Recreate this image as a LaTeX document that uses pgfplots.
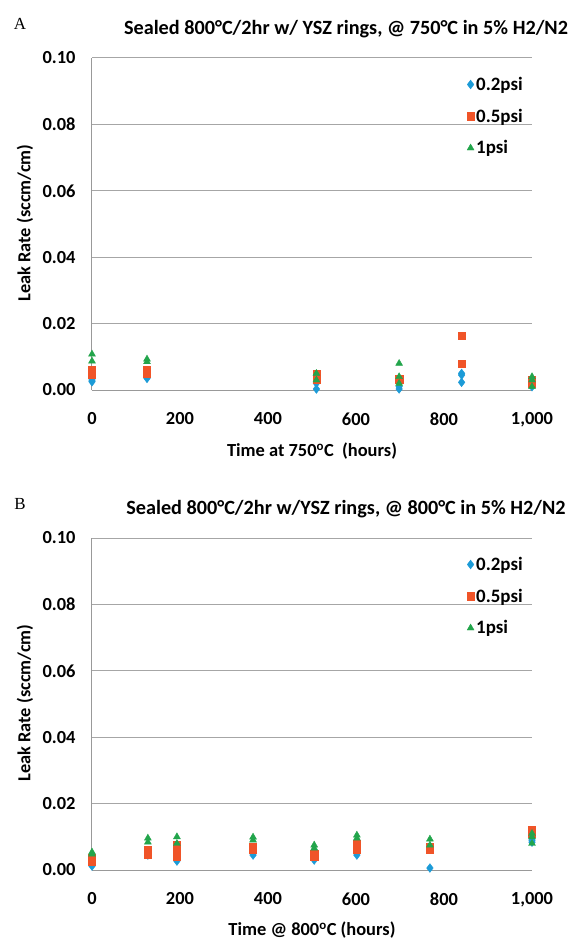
\documentclass[border=0pt]{standalone}
\usepackage{fontspec}
\setmainfont{Carlito}
\newfontfamily\seriffont{Liberation Serif}
\usepackage{pgfplots}
\pgfplotsset{compat=1.18}
\definecolor{cblue}{RGB}{28,155,215}
\definecolor{cred}{RGB}{240,84,40}
\definecolor{cgreen}{RGB}{34,165,75}
\pgfplotsset{myax/.style={
  scale only axis, width=440bp, height=332bp,
  xmin=0, xmax=1000, ymin=0, ymax=0.1,
  axis x line*=bottom, axis y line*=left,
  axis line style={draw=gray!80, line width=1bp},
  ymajorgrids, grid style={gray!70, line width=1bp},
  major tick length=0pt,
  xtick={0,200,400,600,800,1000},
  xticklabels={0,200,400,600,800,{1,000}},
  ytick={0,0.02,0.04,0.06,0.08,0.1},
  yticklabels={0.00,0.02,0.04,0.06,0.08,0.10},
  ticklabel style={font=\bfseries\fontsize{18.5}{20}\selectfont},
  yticklabel style={xshift=-13bp},
  xticklabel style={yshift=-19bp},
  legend style={draw=none, fill=none, at={(0.845,0.955)}, anchor=north west,
    font=\bfseries\fontsize{19}{21}\selectfont, row sep=13bp,
    legend cell align=left},
  legend image code/.code={\draw[mark repeat=2,mark phase=2] plot coordinates {(0cm,0cm) (0.15cm,0cm) (0.3cm,0cm)};},
  clip=false,
}}
\begin{document}
\begin{tikzpicture}[x=1bp,y=1bp]
\useasboundingbox (-92,-549) rectangle (478,390);
% Panel A
\node[font=\seriffont\fontsize{17}{19}\selectfont] at (-72,366) {A};
\node[font=\bfseries\fontsize{20.3}{22}\selectfont] at (254,361) {Sealed 800°C/2hr w/ YSZ rings, @ 750°C in 5\% H2/N2};
\node[font=\bfseries\fontsize{18.4}{20}\selectfont, rotate=90] at (-67,167) {Leak Rate (sccm/cm)};
\node[font=\bfseries\fontsize{18.5}{20}\selectfont] at (220,-61) {Time at 750\textsuperscript{o}C\ \ (hours)};
\begin{axis}[myax, at={(0bp,0bp)}, anchor=south west]
\addplot[only marks, mark=diamond*, mark size=4.4bp, color=cblue] coordinates {
(0,0.003) (0,0.0025) (125,0.004) (125,0.0035) (510,0.002) (510,0.0003)
(698,0.0003) (698,0.001) (840,0.005) (840,0.0045) (840,0.0023)
(1000,0.002) (1000,0.001)};
\addlegendentry{0.2psi}
\addplot[only marks, mark=square*, mark size=3.6bp, color=cred] coordinates {
(0,0.006) (0,0.0045) (125,0.006) (125,0.005) (510,0.005) (510,0.003)
(698,0.003) (698,0.0035) (840,0.0163) (840,0.0079)
(1000,0.003) (1000,0.002)};
\addlegendentry{0.5psi}
\addplot[only marks, mark=triangle*, mark size=4bp, color=cgreen] coordinates {
(0,0.0108) (0,0.0087) (125,0.0093) (125,0.0085) (510,0.005) (510,0.003)
(698,0.008) (698,0.004) (698,0.002)
(1000,0.004) (1000,0.003) (1000,0.001)};
\addlegendentry{1psi}
\end{axis}
% Panel B
\node[font=\seriffont\fontsize{17}{19}\selectfont] at (-72,-114) {B};
\node[font=\bfseries\fontsize{20.3}{22}\selectfont] at (254,-119) {Sealed 800°C/2hr w/YSZ rings, @ 800°C in 5\% H2/N2};
\node[font=\bfseries\fontsize{18.4}{20}\selectfont, rotate=90] at (-67,-313) {Leak Rate (sccm/cm)};
\node[font=\bfseries\fontsize{18.5}{20}\selectfont] at (220,-540) {Time @ 800\textsuperscript{o}C (hours)};
\begin{axis}[myax, at={(0bp,-480bp)}, anchor=south west]
\addplot[only marks, mark=diamond*, mark size=4.4bp, color=cblue] coordinates {
(0,0.0012) (0,0.002) (127,0.0045) (127,0.005) (193,0.0027) (193,0.0035)
(366,0.0045) (366,0.005) (505,0.003) (505,0.0035) (602,0.0045) (602,0.005)
(768,0.0006) (1000,0.0084) (1000,0.009)};
\addlegendentry{0.2psi}
\addplot[only marks, mark=square*, mark size=3.6bp, color=cred] coordinates {
(0,0.0036) (0,0.0024) (127,0.006) (127,0.0045) (193,0.0075) (193,0.0054) (193,0.004)
(366,0.007) (366,0.006) (505,0.005) (505,0.004) (602,0.008) (602,0.006)
(768,0.007) (768,0.006) (1000,0.012) (1000,0.011)};
\addlegendentry{0.5psi}
\addplot[only marks, mark=triangle*, mark size=4bp, color=cgreen] coordinates {
(0,0.0054) (0,0.0048) (127,0.0096) (127,0.0084) (193,0.010) (193,0.008)
(366,0.0099) (366,0.009) (505,0.0075) (505,0.0066) (602,0.0105) (602,0.0096)
(768,0.0093) (768,0.0075) (1000,0.011) (1000,0.010) (1000,0.008)};
\addlegendentry{1psi}
\end{axis}
\end{tikzpicture}
\end{document}
